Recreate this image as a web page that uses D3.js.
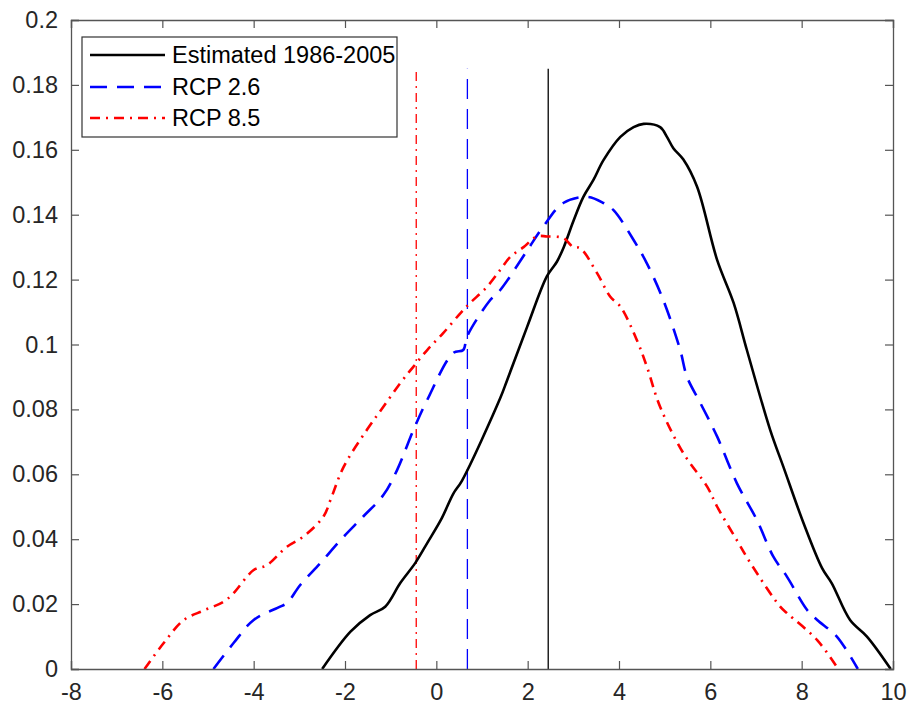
<!DOCTYPE html>
<html><head><meta charset="utf-8">
<script src="https://cdn.jsdelivr.net/npm/d3@7"></script>
<style>body{margin:0;background:#fff}svg{display:block}text{font-family:"Liberation Sans",Arial,sans-serif}</style>
</head><body><svg id="c" width="912" height="709"></svg>
<script>
const xTicks=[-8,-6,-4,-2,0,2,4,6,8,10];
const yTicks=[0,0.02,0.04,0.06,0.08,0.1,0.12,0.14,0.16,0.18,0.2];
const seriesNames=["Estimated 1986-2005","RCP 2.6","RCP 8.5"];
const estX=[-2.5,-1.88,-1.45,-1.12,-0.79,-0.46,-0.20,0.12,0.37,0.56,1.40,1.55,1.99,2.42,2.64,2.79,3.0,3.22,3.44,3.66,4.03,4.32,4.54,4.90,5.05,5.19,5.41,5.71,6.15,6.51,6.80,7.31,7.60,8.04,8.45,8.66,9.06,9.43,9.95];
const estY=[0,0.0115,0.0166,0.0192,0.0265,0.0327,0.0388,0.0465,0.054,0.058,0.0835,0.089,0.1055,0.121,0.1255,0.130,0.138,0.1455,0.1507,0.1568,0.164,0.167,0.168,0.167,0.164,0.1605,0.157,0.1486,0.126,0.1128,0.0983,0.0737,0.0623,0.045,0.031,0.0264,0.0151,0.010,0];
const r26X=[-4.88,-4.44,-4.0,-3.42,-3.27,-2.98,-2.54,-2.10,-1.60,-1.16,-0.86,-0.50,-0.20,0.37,0.59,0.67,1.18,1.40,1.99,2.34,2.78,3.30,3.66,3.88,4.32,4.61,4.97,5.34,5.49,5.78,6.15,6.58,7.02,7.38,7.68,8.12,8.34,8.77,9.23];
const r26Y=[0,0.008,0.0151,0.0192,0.0203,0.0259,0.0326,0.0397,0.047,0.0536,0.0613,0.0737,0.0829,0.0974,0.0983,0.1024,0.1137,0.1168,0.129,0.1363,0.1436,0.1455,0.1436,0.1414,0.1322,0.125,0.1137,0.0983,0.090,0.082,0.0716,0.0573,0.0459,0.0346,0.0284,0.0182,0.0151,0.010,0];
const r85X=[-6.39,-5.97,-5.53,-5.10,-4.66,-4.44,-4.0,-3.71,-3.27,-2.91,-2.47,-2.32,-2.03,-1.52,-1.16,-0.79,-0.50,-0.20,0.15,0.53,0.74,1.11,1.40,1.62,1.91,2.20,2.42,2.78,3.0,3.15,3.52,3.81,4.03,4.39,4.61,4.90,5.41,5.93,6.15,6.58,6.88,7.53,7.68,8.34,8.80];
const r85Y=[0,0.008,0.0151,0.018,0.0207,0.0234,0.0305,0.032,0.0377,0.0408,0.047,0.052,0.0623,0.0737,0.0808,0.0881,0.0932,0.0983,0.1035,0.1097,0.1128,0.1178,0.123,0.127,0.130,0.1333,0.1333,0.1328,0.130,0.1297,0.122,0.1147,0.1117,0.1014,0.0932,0.0808,0.0665,0.0562,0.050,0.0397,0.0326,0.0192,0.0172,0.0089,0];
const meanX=[2.45,0.68,-0.44];
const meanTop=0.185;

const svg=d3.select("#c");
const L=71,R=893,T=20,B=669;
const x=d3.scaleLinear().domain([-8,10]).range([L,R]);
const y=d3.scaleLinear().domain([0,0.2]).range([B,T]);
const axC="#555", txC="#262626";
const fmt=d=>d===0?"0":String(+d.toFixed(2));

const styles=[
 {c:"#000",dash:null,w:2.6,vw:1.3,vdash:null},
 {c:"#0000ff",dash:"17,10",w:2.6,vw:1.3,vdash:"20,10"},
 {c:"#ff0000",dash:"10,6,2,6",w:2.6,vw:1.3,vdash:"9,5,2,5"}
];
const data=[[estX,estY],[r26X,r26Y],[r85X,r85Y]];

meanX.forEach((m,i)=>{
  svg.append("line").attr("x1",x(m)).attr("x2",x(m)).attr("y1",y(0)).attr("y2",y(meanTop))
   .attr("stroke",styles[i].c).attr("stroke-width",styles[i].vw).attr("stroke-dasharray",styles[i].vdash);
});
const line=d3.line().x(d=>x(d[0])).y(d=>y(d[1])).curve(d3.curveCatmullRom.alpha(0.5));
data.forEach((s,i)=>{
  const pts=s[0].map((v,k)=>[v,s[1][k]]);
  svg.append("path").attr("d",line(pts)).attr("fill","none").attr("stroke",styles[i].c)
   .attr("stroke-width",styles[i].w).attr("stroke-dasharray",styles[i].dash).attr("stroke-linejoin","round");
});

const gB=svg.append("g").attr("transform",`translate(0,${B})`).call(d3.axisBottom(x).tickValues(xTicks).tickSize(-8).tickPadding(14).tickFormat(d=>String(d)));
const gT=svg.append("g").attr("transform",`translate(0,${T})`).call(d3.axisTop(x).tickValues(xTicks).tickSize(-8).tickFormat(""));
const gL=svg.append("g").attr("transform",`translate(${L},0)`).call(d3.axisLeft(y).tickValues(yTicks).tickSize(-8).tickPadding(13).tickFormat(fmt));
const gR=svg.append("g").attr("transform",`translate(${R},0)`).call(d3.axisRight(y).tickValues(yTicks).tickSize(-8).tickFormat(""));
[gB,gT,gL,gR].forEach(g=>{
  g.select(".domain").attr("stroke",axC).attr("stroke-width",1.3);
  g.selectAll(".tick line").attr("stroke",axC).attr("stroke-width",1.2);
  g.selectAll(".tick text").attr("fill",txC).attr("font-size",23.5).attr("font-family","Liberation Sans, Arial, sans-serif");
});
gB.selectAll(".tick text").attr("dy","0.71em");

const lg=svg.append("g");
lg.append("rect").attr("x",82).attr("y",37).attr("width",315).attr("height",100).attr("fill","#fff").attr("stroke","#333").attr("stroke-width",1.2);
const rows=[55,87,118];
seriesNames.forEach((n,i)=>{
  lg.append("line").attr("x1",90).attr("x2",165).attr("y1",rows[i]).attr("y2",rows[i])
   .attr("stroke",styles[i].c).attr("stroke-width",2.6).attr("stroke-dasharray",styles[i].dash);
  lg.append("text").attr("x",172).attr("y",rows[i]).attr("dy","0.36em").attr("font-size",23.5).attr("fill","#000").text(n);
});
</script></body></html>
